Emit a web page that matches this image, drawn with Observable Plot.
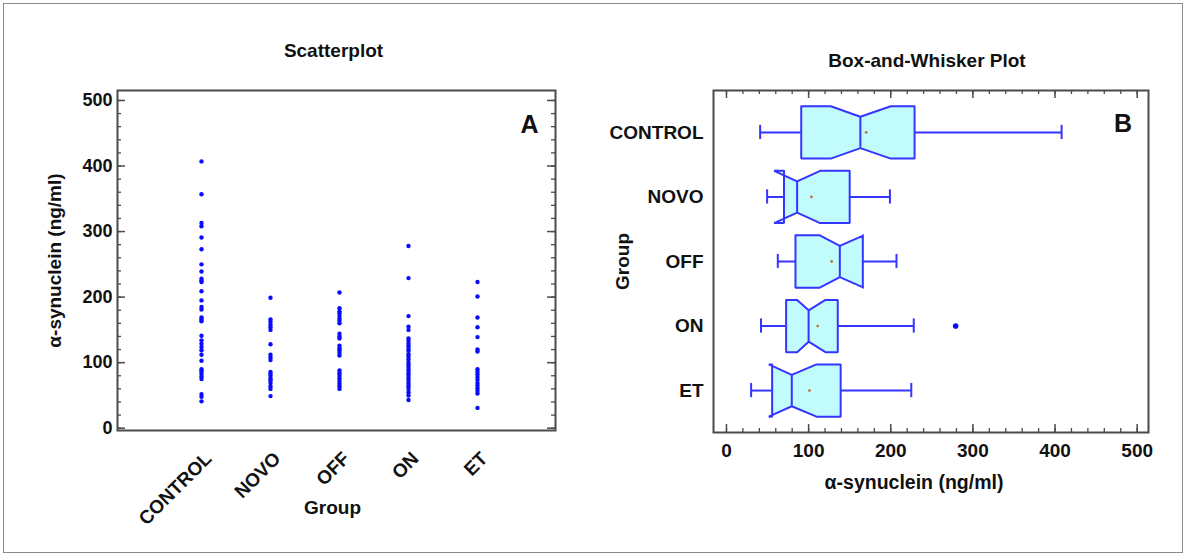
<!DOCTYPE html>
<html><head><meta charset="utf-8">
<script src="https://cdn.jsdelivr.net/npm/d3@7"></script>
<script src="https://cdn.jsdelivr.net/npm/@observablehq/plot@0.6"></script>
<style>
body{margin:0;background:#fff;}
#fig{position:relative;width:1188px;height:558px;overflow:hidden;background:#fff;}
#border{position:absolute;left:3px;top:3px;width:1178px;height:548px;border:1.5px solid #8a8a8a;}
#left{position:absolute;left:0;top:0;}
#right{position:absolute;left:580px;top:0;}
</style></head><body>
<div id="fig"><div id="border"></div><div id="left"></div><div id="right"></div></div>
<script>
// ---------- data ----------
const groups = ["CONTROL", "NOVO", "OFF", "ON", "ET"];

// Scatterplot (panel A) values, ng/ml
const controlValues = [407, 357, 313, 308, 291, 273, 250, 239, 228, 225, 223, 209, 195, 185, 181, 169, 166, 163, 141, 134, 129, 124, 119, 112, 103, 90, 87, 83, 79, 75, 52, 48, 41];
const novoValues = [199, 166, 162, 158, 154, 150, 128, 112, 108, 104, 86, 83, 80, 76, 73, 69, 64, 60, 49];
const offValues = [207, 183, 178, 175, 171, 167, 164, 160, 144, 140, 137, 126, 122, 119, 115, 111, 88, 84, 80, 76, 72, 68, 64, 60];
const onValues = [278, 229, 171, 155, 150, 137, 133, 129, 125, 121, 118, 113, 109, 105, 100, 96, 92, 88, 84, 80, 76, 72, 68, 64, 60, 55, 50, 43];
const etValues = [223, 201, 169, 154, 139, 120, 117, 90, 86, 82, 78, 74, 69, 65, 61, 57, 53, 31];
const seriesValues = [controlValues, novoValues, offValues, onValues, etValues];

// Box-and-whisker (panel B) statistics, same group order
const whiskerLow  = [41, 49.5, 62.5, 42, 30];
const q1          = [91, 70, 84, 72.6, 55.6];
const notchLow    = [127, 58, 113.6, 86, 51.5];
const median      = [163, 86, 138, 100, 79.5];
const notchHigh   = [200, 114, 167, 120.5, 109.6];
const q3          = [229, 150, 166, 135.5, 139];
const whiskerHigh = [408, 199, 207, 228, 225];
const means       = [170, 103.5, 128, 111, 101];
const outlierGroups = ["ON"];
const outlierValues = [279];

// tick labels
const yTicksA = [0, 100, 200, 300, 400, 500];
const xTicksB = [0, 100, 200, 300, 400, 500];

// ---------- styles ----------
const FONT = '"Liberation Sans", Arial, Helvetica, sans-serif';
const baseStyle = {fontFamily: FONT, fontSize: "19px", fontWeight: "bold", color: "#111", background: "transparent", overflow: "visible"};
const frameColor = "#4a4a4a";
const boxStroke = "#3535ff";
const boxFill = "#c2fbfb";
const minorTicks = d3.range(0, 501, 20);

// ---------- panel A ----------
const LW = 580, LH = 558, LT = 90, LR = 25, LB = 128, LL = 117;
const lpw = LW - LL - LR;
const scatterData = groups.flatMap((g, i) => seriesValues[i].map(v => ({group: g, value: v})));

const left = Plot.plot({
  width: LW, height: LH,
  marginTop: LT, marginRight: LR, marginBottom: LB, marginLeft: LL,
  style: baseStyle,
  x: {type: "point", domain: groups, padding: 0, insetLeft: 82, insetRight: 77},
  y: {domain: [-3.5, 515.2]},
  marks: [
    Plot.tickY(minorTicks, {y: d => d, insetRight: lpw - 4, stroke: frameColor, strokeWidth: 1.3}),
    Plot.tickY(yTicksA, {y: d => d, insetRight: lpw - 8, stroke: frameColor, strokeWidth: 1.5}),
    Plot.tickY(minorTicks, {y: d => d, insetLeft: lpw - 4, stroke: frameColor, strokeWidth: 1.3}),
    Plot.tickY(yTicksA, {y: d => d, insetLeft: lpw - 8, stroke: frameColor, strokeWidth: 1.5}),
    Plot.dot(scatterData, {x: "group", y: "value", r: 2.2, fill: "#0a0aff", stroke: null}),
    Plot.frame({stroke: frameColor, strokeWidth: 2}),
    Plot.axisY({ticks: yTicksA, tickSize: 0, tickPadding: 5, label: null, fontSize: 18}),
    Plot.axisX({tickRotate: -45, tickSize: 0, tickPadding: 12, dx: 7, dy: 13, label: null, fontSize: 19}),
    Plot.text(["Scatterplot"], {text: d => d, frameAnchor: "top", dx: -3, dy: -47, fontSize: 19}),
    Plot.text(["A"], {text: d => d, frameAnchor: "top-right", dx: -26, dy: 25, fontSize: 25, textAnchor: "middle"}),
    Plot.text(["α-synuclein (ng/ml)"], {text: d => d, frameAnchor: "left", textAnchor: "middle", dx: -63, rotate: -90}),
    Plot.text(["Group"], {text: d => d, frameAnchor: "bottom", dx: -4, dy: 83})
  ]
});
document.getElementById("left").append(left);

// ---------- panel B ----------
const RW = 608, RH = 558, RT = 90, RR = 40, RB = 126, RL = 133;
const rph = RH - RT - RB;
const idx = groups.map((g, i) => i);
const boxHalf = 0.405, notchHalf = 0.243, capHalf = 0.11;

const polys = groups.flatMap((g, i) => {
  const t = i - boxHalf, b = i + boxHalf, ti = i - notchHalf, bi = i + notchHalf;
  return [
    [q1[i], t], [notchLow[i], t], [median[i], ti], [notchHigh[i], t], [q3[i], t],
    [q3[i], b], [notchHigh[i], b], [median[i], bi], [notchLow[i], b], [q1[i], b], [q1[i], t]
  ].map(([x, y]) => ({group: g, x, y}));
});
const outliers = outlierGroups.map((g, k) => ({pos: groups.indexOf(g), value: outlierValues[k]}));

const right = Plot.plot({
  width: RW, height: RH,
  marginTop: RT, marginRight: RR, marginBottom: RB, marginLeft: RL,
  style: baseStyle,
  x: {domain: [-15.8, 513.8]},
  y: {domain: [-0.65, 4.65], reverse: true},
  marks: [
    Plot.tickX(minorTicks, {x: d => d, insetTop: rph - 4, stroke: frameColor, strokeWidth: 1.3}),
    Plot.tickX(xTicksB, {x: d => d, insetTop: rph - 8, stroke: frameColor, strokeWidth: 1.5}),
    Plot.tickX(minorTicks, {x: d => d, insetBottom: rph - 4, stroke: frameColor, strokeWidth: 1.3}),
    Plot.tickX(xTicksB, {x: d => d, insetBottom: rph - 8, stroke: frameColor, strokeWidth: 1.5}),
    Plot.ruleY(idx, {y: d => d, x1: i => whiskerLow[i], x2: i => q1[i], stroke: boxStroke, strokeWidth: 2}),
    Plot.ruleY(idx, {y: d => d, x1: i => q3[i], x2: i => whiskerHigh[i], stroke: boxStroke, strokeWidth: 2}),
    Plot.ruleX(idx, {x: i => whiskerLow[i], y1: i => i - capHalf, y2: i => i + capHalf, stroke: boxStroke, strokeWidth: 2}),
    Plot.ruleX(idx, {x: i => whiskerHigh[i], y1: i => i - capHalf, y2: i => i + capHalf, stroke: boxStroke, strokeWidth: 2}),
    Plot.line(polys, {x: "x", y: "y", z: "group", fill: boxFill, stroke: boxStroke, strokeWidth: 2, strokeLinejoin: "miter"}),
    Plot.ruleX(idx, {x: i => median[i], y1: i => i - notchHalf, y2: i => i + notchHalf, stroke: boxStroke, strokeWidth: 2}),
    Plot.dot(idx, {x: i => means[i], y: i => i, r: 1.4, fill: "#b57a3a", stroke: null}),
    Plot.dot(outliers, {x: "value", y: "pos", r: 2.8, fill: "#0a0aff", stroke: null}),
    Plot.frame({stroke: frameColor, strokeWidth: 2}),
    Plot.axisY({ticks: idx, tickFormat: i => groups[i], tickSize: 0, tickPadding: 10, label: null}),
    Plot.axisX({ticks: xTicksB, tickSize: 0, tickPadding: 11, label: null}),
    Plot.text(["Box-and-Whisker Plot"], {text: d => d, frameAnchor: "top", dx: -4, dy: -37, fontSize: 19}),
    Plot.text(["B"], {text: d => d, frameAnchor: "top-right", dx: -25.5, dy: 23.5, fontSize: 25, textAnchor: "middle"}),
    Plot.text(["Group"], {text: d => d, frameAnchor: "left", textAnchor: "middle", dx: -91, rotate: -90}),
    Plot.text(["α-synuclein (ng/ml)"], {text: d => d, frameAnchor: "bottom", dx: -17, dy: 56, fontSize: 19.5})
  ]
});
document.getElementById("right").append(right);
</script>
</body></html>
